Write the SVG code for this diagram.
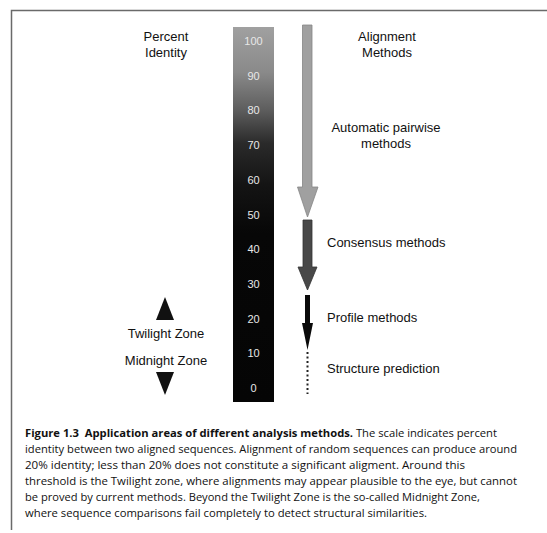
<svg xmlns="http://www.w3.org/2000/svg" width="547" height="533" viewBox="0 0 547 533">
<defs>
<linearGradient id="barGrad" x1="0" y1="0" x2="0" y2="1">
<stop offset="0" stop-color="#a0a0a0"/>
<stop offset="0.12" stop-color="#8a8a8a"/>
<stop offset="0.22" stop-color="#5e5e5e"/>
<stop offset="0.31" stop-color="#2a2a2a"/>
<stop offset="0.42" stop-color="#141414"/>
<stop offset="0.55" stop-color="#070707"/>
<stop offset="1" stop-color="#050505"/>
</linearGradient>
<style>
.lbl{font-family:"Liberation Sans",Arial,sans-serif;font-size:13px;fill:#111}
.num{font-family:"Liberation Sans",Arial,sans-serif;font-size:11px;fill:#e8e8e8;text-anchor:middle}
.cap{font-family:"Open Sans","Noto Sans",sans-serif;font-size:11px;fill:#111}
.capb{font-weight:bold}
.frame{stroke:#6a6a6a;stroke-width:1.5;fill:none}
</style>
</defs>
<rect width="547" height="533" fill="#fff"/>
<g id="frame">
<path class="frame" d="M547 10.5 H11.5 V530"/>
</g>
<g id="scale">
<rect x="233" y="27" width="41" height="375" fill="url(#barGrad)"/>
<text class="num" x="253.5" y="45">100</text>
<text class="num" x="253.5" y="79.7">90</text>
<text class="num" x="253.5" y="114.4">80</text>
<text class="num" x="253.5" y="149.1">70</text>
<text class="num" x="253.5" y="183.8">60</text>
<text class="num" x="253.5" y="218.5">50</text>
<text class="num" x="253.5" y="253.2">40</text>
<text class="num" x="253.5" y="287.9">30</text>
<text class="num" x="253.5" y="322.6">20</text>
<text class="num" x="253.5" y="357.3">10</text>
<text class="num" x="253.5" y="392">0</text>
</g>
<g id="percent-identity">
<text class="lbl" x="166" y="41" text-anchor="middle">Percent</text>
<text class="lbl" x="166" y="57" text-anchor="middle">Identity</text>
</g>
<g id="alignment-methods">
<text class="lbl" x="387" y="41" text-anchor="middle">Alignment</text>
<text class="lbl" x="387" y="57" text-anchor="middle">Methods</text>
</g>
<g id="connectors">
<path d="M302.5 25 H312 V187 H318 L307.5 217 L297.5 187 H302.5 Z" fill="#a0a0a0" stroke="#858585" stroke-width="0.8"/>
<path d="M303 220 H312 V267 H317 L307.5 290 L298 267 H303 Z" fill="#484848" stroke="#333" stroke-width="0.8"/>
<path d="M305 295 H310 V323 H313 L307.5 350 L302 323 H305 Z" fill="#0a0a0a"/>
<line x1="307.5" y1="352" x2="307.5" y2="394" stroke="#222" stroke-width="2" stroke-dasharray="2,2.5"/>
</g>
<g id="automatic-pairwise">
<text class="lbl" x="386" y="132" text-anchor="middle">Automatic pairwise</text>
<text class="lbl" x="386" y="148" text-anchor="middle">methods</text>
</g>
<g id="consensus">
<text class="lbl" x="327" y="247">Consensus methods</text>
</g>
<g id="profile">
<text class="lbl" x="327" y="322">Profile methods</text>
</g>
<g id="structure">
<text class="lbl" x="327" y="373">Structure prediction</text>
</g>
<g id="zones">
<path d="M165 297 L174 320 L156 320 Z" fill="#111"/>
<text class="lbl" x="166" y="338" text-anchor="middle">Twilight Zone</text>
<text class="lbl" x="166" y="365" text-anchor="middle">Midnight Zone</text>
<path d="M156 372 L174 372 L165 395 Z" fill="#111"/>
</g>
<g id="caption">
<text class="cap" x="25" y="437" textLength="472" lengthAdjust="spacingAndGlyphs"><tspan class="capb">Figure 1.3&#160; Application areas of different analysis methods.</tspan> The scale indicates percent</text>
<text class="cap" x="25" y="453" textLength="492" lengthAdjust="spacingAndGlyphs">identity between two aligned sequences. Alignment of random sequences can produce around</text>
<text class="cap" x="25" y="469" textLength="440" lengthAdjust="spacingAndGlyphs">20% identity; less than 20% does not constitute a significant aligment. Around this</text>
<text class="cap" x="25" y="485" textLength="492" lengthAdjust="spacingAndGlyphs">threshold is the Twilight zone, where alignments may appear plausible to the eye, but cannot</text>
<text class="cap" x="25" y="501" textLength="455" lengthAdjust="spacingAndGlyphs">be proved by current methods. Beyond the Twilight Zone is the so-called Midnight Zone,</text>
<text class="cap" x="25" y="517" textLength="402" lengthAdjust="spacingAndGlyphs">where sequence comparisons fail completely to detect structural similarities.</text>
</g>
</svg>
